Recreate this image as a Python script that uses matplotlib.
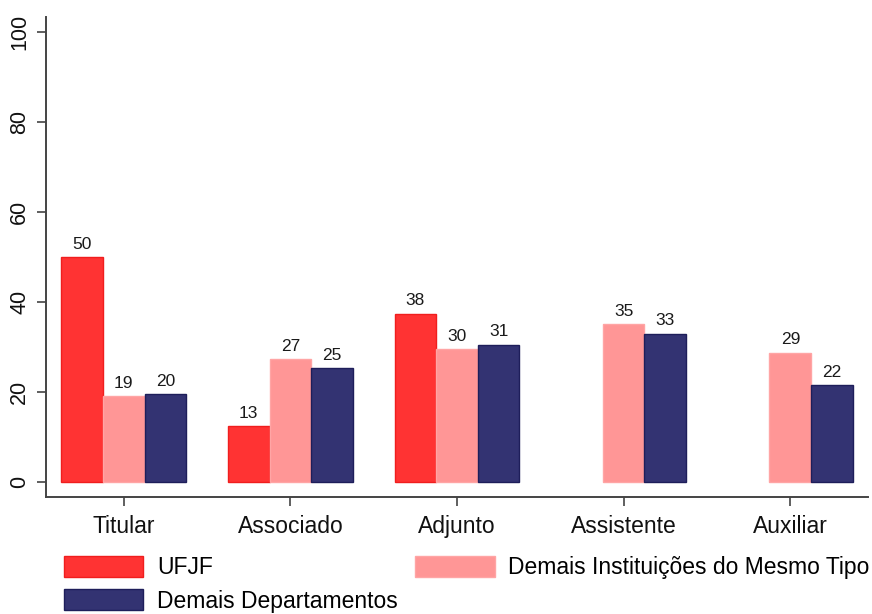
import numpy as np
import matplotlib
matplotlib.use('Agg')
import matplotlib.pyplot as plt

plt.rcParams['font.family'] = ['Liberation Sans', 'DejaVu Sans']

# Data
categories = ['Titular', 'Associado', 'Adjunto', 'Assistente', 'Auxiliar']
ufjf = [50.0, 12.4, 37.4, np.nan, np.nan]
instituicoes = [19.0, 27.2, 29.5, 35.0, 28.7]
departamentos = [19.5, 25.2, 30.5, 32.9, 21.5]
ufjf_lbl = ['50', '13', '38', '', '']
inst_lbl = ['19', '27', '30', '35', '29']
dep_lbl = ['20', '25', '31', '33', '22']
series_names = ['UFJF', 'Demais Instituições do Mesmo Tipo', 'Demais Departamentos']

red = '#ff3333'
pink = '#ff9696'
navy = '#333372'

fig = plt.figure(figsize=(8.72, 6.14), dpi=100)
ax = fig.add_axes([46 / 872, 117.3 / 614, 822 / 872, 479.7 / 614])

x = np.arange(len(categories))
w = 0.25
b1 = ax.bar(x - w, ufjf, w, color=red, edgecolor='#f01e1e', linewidth=1, label=series_names[0])
b2 = ax.bar(x, instituicoes, w, color=pink, edgecolor='#ffa5a5', linewidth=1, label=series_names[1])
b3 = ax.bar(x + w, departamentos, w, color=navy, edgecolor='#1e1e5a', linewidth=1, label=series_names[2])

for bars, vals, lbls in [(b1, ufjf, ufjf_lbl), (b2, instituicoes, inst_lbl), (b3, departamentos, dep_lbl)]:
    for bar, v, t in zip(bars, vals, lbls):
        if np.isnan(v) or t == '':
            continue
        ax.annotate(t, (bar.get_x() + bar.get_width() / 2, v), xytext=(0, 6),
                    textcoords='offset points', ha='center', va='baseline', fontsize=12.5, color='#1a1a1a')

ax.set_xlim(-0.466, 4.466)
ax.set_ylim(-3.33, 103.33)
ax.set_yticks([0, 20, 40, 60, 80, 100])
ax.set_yticklabels(['0', '20', '40', '60', '80', '100'], rotation=90, va='center', fontsize=15.5)
ax.set_xticks(x)
ax.set_xticklabels(categories, fontsize=16.5)
ax.tick_params(axis='both', length=6.5, width=1.2, color='#444444', labelcolor='#111111')
ax.tick_params(axis='x', pad=7)
ax.tick_params(axis='y', pad=5)
for s in ['top', 'right']:
    ax.spines[s].set_visible(False)
for s in ['left', 'bottom']:
    ax.spines[s].set_color('#444444')
    ax.spines[s].set_linewidth(1.4)

fig.legend(handles=[b1, b3, b2], labels=[series_names[0], series_names[2], series_names[1]],
           ncol=2, loc='upper left', bbox_to_anchor=(64 / 872, 1 - 556 / 614),
           frameon=False, fontsize=16.5, handlelength=3.45, handleheight=1.0,
           handletextpad=0.6, columnspacing=0.78, labelspacing=0.45, borderpad=0,
           borderaxespad=0)

fig.savefig('out.png', dpi=100)
